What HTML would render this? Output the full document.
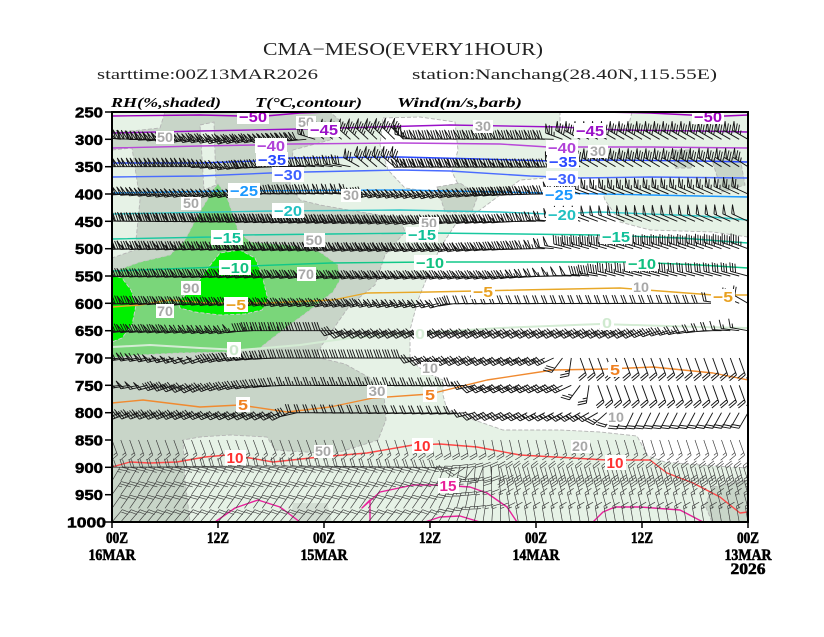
<!DOCTYPE html>
<html><head><meta charset="utf-8">
<style>html,body{margin:0;padding:0;background:#fff;width:824px;height:637px;overflow:hidden}svg{display:block}</style>
</head>
<body>
<svg id="s" width="824" height="637" viewBox="0 0 824 637" xmlns="http://www.w3.org/2000/svg">
<defs><clipPath id="pc"><rect x="112" y="112" width="636" height="410"/></clipPath></defs>
<rect x="0" y="0" width="824" height="637" fill="#fff"/>
<g clip-path="url(#pc)">
  <!-- RH shading -->
  <rect x="112" y="112" width="636" height="410" fill="#e6f2e6"/>
  <g fill="#ffffff" stroke="#b4b4b4" stroke-width="0.9" stroke-dasharray="4,2">
    <polygon points="440,248 455,225 480,210 500,195 520,180 560,177 598,178 605,200 620,222 650,230 713,232 748,237 748,468 700,465 665,462 648,456 637,436 600,432 560,430 503,430 460,415 447,410 443,395 443,380 425,372 410,360 410,330 418,300 430,270"/>
    <polygon points="383,118 420,117 455,122 458,150 452,172 460,188 440,193 405,188 388,170 380,145"/>
    <polygon points="560,112 632,112 628,128 600,134 560,132"/>
  </g>
  <g fill="#c8d5c8" stroke="#b4b4b4" stroke-width="0.9" stroke-dasharray="4,2">
    <polygon points="112,112 330,112 345,125 330,140 293,150 290,185 300,200 320,205 360,212 400,218 405,232 385,255 375,285 350,305 343,315 322,345 316,357 345,364 370,378 384,395 386,420 378,440 340,452 320,453 275,450 267,437 230,435 200,437 183,440 185,480 190,522 112,522"/>
    <polygon points="437,187 460,183 478,195 472,212 445,212"/>
    <polygon points="673,150 690,150 692,168 675,168"/>
    <polygon points="712,160 740,157 745,185 722,192"/>
    <polygon points="713,487 748,480 748,522 712,522 705,505"/>
  </g>
  <polygon points="293,503 327,503 332,522 290,522" fill="#d3ded3"/>
  <g fill="#e6f2e6" stroke="#b4b4b4" stroke-width="0.9" stroke-dasharray="4,2">
    <polygon points="112,150 132,148 140,200 135,250 112,258"/>
    <polygon points="200,125 214,122 216,185 204,190"/>
    <polygon points="112,112 165,112 160,128 112,133"/>
  </g>
  <polygon points="218,183 228,200 238,230 250,242 290,245 320,252 338,265 340,280 333,292 310,310 287,327 270,340 260,348 230,352 180,353 140,355 112,358 112,272 140,262 170,255 185,240 198,215 210,195" fill="#7ad67a" stroke="#c8c8c8" stroke-width="0.9" stroke-dasharray="4,2"/>
  <g fill="#00f000" stroke="#d0d0d0" stroke-width="0.9" stroke-dasharray="4,2">
    <polygon points="112,275 122,278 131,290 136,305 132,325 122,338 112,342"/>
    <polygon points="178,302 195,286 208,268 220,253 240,250 255,258 262,275 268,300 262,310 245,314 220,315 195,312 180,308"/>
  </g>

  <!-- Temperature contours -->
  <g fill="none" stroke-width="1.4" stroke-linejoin="round">
    <polyline stroke="#a000c0" points="112,116 200,115 240,116 266,116 300,113 330,112"/>
    <polyline stroke="#a000c0" points="600,112 650,113 690,115 725,116 748,115"/>
    <polyline stroke="#9a10c8" points="112,133 200,131 300,129 340,128 450,125 560,127 620,130 700,131 748,132"/>
    <polyline stroke="#b848d8" points="112,148 200,146 255,145 290,144 400,143 500,144 548,147 580,147 650,147 748,148"/>
    <polyline stroke="#2848ff" points="112,163 200,163 258,161 290,158 400,157 480,159 550,161 600,160 700,161 748,162"/>
    <polyline stroke="#4a6cff" points="112,177 200,176 270,173 305,172 400,170 450,171 530,176 580,178 650,177 748,178"/>
    <polyline stroke="#1a98ff" points="112,193 230,191 400,190 550,193 650,195 748,197"/>
    <polyline stroke="#30c8c8" points="112,214 273,211 400,210 500,212 548,214 600,212 700,216 748,220"/>
    <polyline stroke="#18c8a0" points="112,239 212,237 243,235 330,234 430,233 520,234 600,235 680,238 748,243"/>
    <polyline stroke="#10c888" points="112,271 220,267 330,263 430,262 630,262 700,265 748,268"/>
    <polyline stroke="#e8a828" points="112,307 140,305 170,300 207,303 267,303 333,300 367,293 430,292 520,290 620,288 713,295 748,295"/>
    <polyline stroke="#d4ecd4" stroke-width="2" points="112,347 150,345 200,348 240,350 300,345 350,338 420,333 500,328 600,324 700,327 748,328"/>
    <polyline stroke="#f08a30" points="112,403 143,400 200,407 240,405 287,412 330,407 373,398 430,394 487,380 553,370 607,369 653,367 713,373 748,380"/>
    <polyline stroke="#ff4848" points="112,467 130,462 150,463 177,462 205,457 227,455 250,458 273,462 320,457 367,453 413,445 440,444 477,447 520,455 607,460 650,460 667,473 693,483 720,497 740,513 748,512"/>
    <polyline stroke="#e8209a" points="215,522 235,508 258,500 280,507 300,522"/>
    <polyline stroke="#e8209a" points="370,522 370,500 362,508 380,492 413,485 440,485 470,487 487,493 507,507 517,522"/>
    <polyline stroke="#e8209a" points="425,522 440,517 460,516 480,522"/>
    <polyline stroke="#e8209a" points="593,522 603,512 615,507 640,507 680,510 703,522"/>
  </g>

  <!-- Wind barbs (generated) -->
  <path id="barbsU" fill="none" stroke="#151515" stroke-width="0.95" stroke-linejoin="round" d=""/>
  <path id="barbsL" fill="none" stroke="#3a3a3a" stroke-width="0.65" stroke-linejoin="round" d=""/>

  <!-- RH labels -->
  <g font-family="Liberation Sans, sans-serif" font-weight="bold" font-size="14" fill="#a8a8a8" text-anchor="middle">
    <rect x="156" y="131" width="18" height="13" fill="#fff"/><text x="165" y="142" textLength="16" lengthAdjust="spacingAndGlyphs">50</text>
    <rect x="296" y="116" width="20" height="13" fill="#fff"/><text x="306" y="127" textLength="16" lengthAdjust="spacingAndGlyphs">50</text>
    <rect x="473" y="120" width="20" height="13" fill="#fff"/><text x="483" y="131" textLength="16" lengthAdjust="spacingAndGlyphs">30</text>
    <rect x="588" y="145" width="20" height="13" fill="#fff"/><text x="598" y="156" textLength="16" lengthAdjust="spacingAndGlyphs">30</text>
    <rect x="341" y="189" width="20" height="13" fill="#fff"/><text x="351" y="200" textLength="16" lengthAdjust="spacingAndGlyphs">30</text>
    <rect x="181" y="197" width="20" height="13" fill="#fff"/><text x="191" y="208" textLength="16" lengthAdjust="spacingAndGlyphs">50</text>
    <rect x="419" y="217" width="20" height="13" fill="#fff"/><text x="429" y="228" textLength="16" lengthAdjust="spacingAndGlyphs">50</text>
    <rect x="304" y="233" width="21" height="14" fill="#fff"/><text x="314" y="245" textLength="17" lengthAdjust="spacingAndGlyphs">50</text>
    <rect x="297" y="267" width="19" height="14" fill="#fff"/><text x="306" y="279" textLength="16" lengthAdjust="spacingAndGlyphs">70</text>
    <rect x="181" y="281" width="20" height="14" fill="#fff"/><text x="191" y="293" textLength="17" lengthAdjust="spacingAndGlyphs">90</text>
    <rect x="156" y="304" width="18" height="14" fill="#fff"/><text x="165" y="316" textLength="16" lengthAdjust="spacingAndGlyphs">70</text>
    <rect x="632" y="281" width="19" height="13" fill="#fff"/><text x="641" y="292" textLength="16" lengthAdjust="spacingAndGlyphs">10</text>
    <rect x="421" y="362" width="18" height="13" fill="#fff"/><text x="430" y="373" textLength="16" lengthAdjust="spacingAndGlyphs">10</text>
    <rect x="367" y="385" width="20" height="13" fill="#fff"/><text x="377" y="396" textLength="17" lengthAdjust="spacingAndGlyphs">30</text>
    <rect x="607" y="411" width="18" height="13" fill="#fff"/><text x="616" y="422" textLength="16" lengthAdjust="spacingAndGlyphs">10</text>
    <rect x="571" y="440" width="19" height="13" fill="#fff"/><text x="580" y="451" textLength="16" lengthAdjust="spacingAndGlyphs">20</text>
    <rect x="314" y="445" width="19" height="13" fill="#fff"/><text x="323" y="456" textLength="16" lengthAdjust="spacingAndGlyphs">50</text>
  </g>

  <!-- T labels -->
  <g font-family="Liberation Sans, sans-serif" font-weight="bold" font-size="15" text-anchor="middle">
    <rect x="237" y="110" width="32" height="14" fill="#fff"/><text x="253" y="122" fill="#a000c0" textLength="28" lengthAdjust="spacingAndGlyphs">−50</text>
    <rect x="692" y="110" width="32" height="14" fill="#fff"/><text x="708" y="122" fill="#a000c0" textLength="28" lengthAdjust="spacingAndGlyphs">−50</text>
    <rect x="308" y="122" width="32" height="15" fill="#fff"/><text x="324" y="135" fill="#9a10c8" textLength="28" lengthAdjust="spacingAndGlyphs">−45</text>
    <rect x="574" y="123" width="32" height="15" fill="#fff"/><text x="590" y="136" fill="#9a10c8" textLength="28" lengthAdjust="spacingAndGlyphs">−45</text>
    <rect x="255" y="138" width="32" height="15" fill="#fff"/><text x="271" y="151" fill="#b040d8" textLength="28" lengthAdjust="spacingAndGlyphs">−40</text>
    <rect x="546" y="140" width="32" height="15" fill="#fff"/><text x="562" y="153" fill="#b040d8" textLength="28" lengthAdjust="spacingAndGlyphs">−40</text>
    <rect x="256" y="152" width="32" height="14" fill="#fff"/><text x="272" y="165" fill="#2848ff" textLength="28" lengthAdjust="spacingAndGlyphs">−35</text>
    <rect x="547" y="154" width="32" height="14" fill="#fff"/><text x="563" y="167" fill="#2848ff" textLength="28" lengthAdjust="spacingAndGlyphs">−35</text>
    <rect x="272" y="167" width="32" height="15" fill="#fff"/><text x="288" y="180" fill="#3e60ff" textLength="28" lengthAdjust="spacingAndGlyphs">−30</text>
    <rect x="546" y="171" width="32" height="15" fill="#fff"/><text x="562" y="184" fill="#3e60ff" textLength="28" lengthAdjust="spacingAndGlyphs">−30</text>
    <rect x="228" y="183" width="32" height="15" fill="#fff"/><text x="244" y="196" fill="#1a98ff" textLength="28" lengthAdjust="spacingAndGlyphs">−25</text>
    <rect x="543" y="187" width="32" height="15" fill="#fff"/><text x="559" y="200" fill="#1a98ff" textLength="28" lengthAdjust="spacingAndGlyphs">−25</text>
    <rect x="272" y="203" width="32" height="15" fill="#fff"/><text x="288" y="216" fill="#20c0c0" textLength="28" lengthAdjust="spacingAndGlyphs">−20</text>
    <rect x="546" y="207" width="32" height="15" fill="#fff"/><text x="562" y="220" fill="#20c0c0" textLength="28" lengthAdjust="spacingAndGlyphs">−20</text>
    <rect x="211" y="230" width="32" height="15" fill="#fff"/><text x="227" y="243" fill="#10c098" textLength="28" lengthAdjust="spacingAndGlyphs">−15</text>
    <rect x="406" y="227" width="32" height="15" fill="#fff"/><text x="422" y="240" fill="#10c098" textLength="28" lengthAdjust="spacingAndGlyphs">−15</text>
    <rect x="600" y="229" width="32" height="15" fill="#fff"/><text x="616" y="242" fill="#10c098" textLength="28" lengthAdjust="spacingAndGlyphs">−15</text>
    <rect x="219" y="260" width="32" height="15" fill="#fff"/><text x="235" y="273" fill="#10c080" textLength="28" lengthAdjust="spacingAndGlyphs">−10</text>
    <rect x="414" y="255" width="32" height="15" fill="#fff"/><text x="430" y="268" fill="#10c080" textLength="28" lengthAdjust="spacingAndGlyphs">−10</text>
    <rect x="626" y="256" width="32" height="15" fill="#fff"/><text x="642" y="269" fill="#10c080" textLength="28" lengthAdjust="spacingAndGlyphs">−10</text>
    <rect x="224" y="297" width="24" height="15" fill="#fff"/><text x="236" y="310" fill="#e8a020" textLength="20" lengthAdjust="spacingAndGlyphs">−5</text>
    <rect x="471" y="284" width="24" height="15" fill="#fff"/><text x="483" y="297" fill="#e8a020" textLength="20" lengthAdjust="spacingAndGlyphs">−5</text>
    <rect x="711" y="289" width="24" height="15" fill="#fff"/><text x="723" y="302" fill="#e8a020" textLength="20" lengthAdjust="spacingAndGlyphs">−5</text>
    <rect x="227" y="342" width="14" height="15" fill="#fff"/><text x="234" y="355" fill="#cce8cc" textLength="10" lengthAdjust="spacingAndGlyphs">0</text>
    <rect x="414" y="327" width="13" height="14" fill="#fff"/><text x="420" y="339" fill="#d8eed8" textLength="10" lengthAdjust="spacingAndGlyphs">0</text>
    <rect x="600" y="315" width="14" height="15" fill="#fff"/><text x="607" y="328" fill="#d0ead0" textLength="10" lengthAdjust="spacingAndGlyphs">0</text>
    <rect x="236" y="397" width="14" height="15" fill="#fff"/><text x="243" y="410" fill="#f08020" textLength="10" lengthAdjust="spacingAndGlyphs">5</text>
    <rect x="423" y="387" width="14" height="15" fill="#fff"/><text x="430" y="400" fill="#f08020" textLength="10" lengthAdjust="spacingAndGlyphs">5</text>
    <rect x="608" y="362" width="14" height="15" fill="#fff"/><text x="615" y="375" fill="#f08020" textLength="10" lengthAdjust="spacingAndGlyphs">5</text>
    <rect x="225" y="450" width="21" height="15" fill="#fff"/><text x="235" y="463" fill="#ff3030" textLength="17" lengthAdjust="spacingAndGlyphs">10</text>
    <rect x="412" y="438" width="21" height="15" fill="#fff"/><text x="422" y="451" fill="#ff3030" textLength="17" lengthAdjust="spacingAndGlyphs">10</text>
    <rect x="605" y="455" width="21" height="15" fill="#fff"/><text x="615" y="468" fill="#ff3030" textLength="17" lengthAdjust="spacingAndGlyphs">10</text>
    <rect x="438" y="478" width="21" height="15" fill="#fff"/><text x="448" y="491" fill="#e8209a" textLength="17" lengthAdjust="spacingAndGlyphs">15</text>
  </g>
</g>

<!-- Frame -->
<rect x="112" y="112" width="636" height="410" fill="none" stroke="#000" stroke-width="2"/>

<!-- Y ticks and labels -->
<g stroke="#000" stroke-width="1.5">
  <line x1="105" y1="112" x2="112" y2="112"/><line x1="105" y1="139.3" x2="112" y2="139.3"/>
  <line x1="105" y1="166.7" x2="112" y2="166.7"/><line x1="105" y1="194" x2="112" y2="194"/>
  <line x1="105" y1="221.3" x2="112" y2="221.3"/><line x1="105" y1="248.7" x2="112" y2="248.7"/>
  <line x1="105" y1="276" x2="112" y2="276"/><line x1="105" y1="303.3" x2="112" y2="303.3"/>
  <line x1="105" y1="330.7" x2="112" y2="330.7"/><line x1="105" y1="358" x2="112" y2="358"/>
  <line x1="105" y1="385.3" x2="112" y2="385.3"/><line x1="105" y1="412.7" x2="112" y2="412.7"/>
  <line x1="105" y1="440" x2="112" y2="440"/><line x1="105" y1="467.3" x2="112" y2="467.3"/>
  <line x1="105" y1="494.7" x2="112" y2="494.7"/><line x1="105" y1="522" x2="112" y2="522"/>
  <line x1="112" y1="522" x2="112" y2="528"/><line x1="218" y1="522" x2="218" y2="528"/>
  <line x1="324" y1="522" x2="324" y2="528"/><line x1="430" y1="522" x2="430" y2="528"/>
  <line x1="536" y1="522" x2="536" y2="528"/><line x1="642" y1="522" x2="642" y2="528"/>
  <line x1="748" y1="522" x2="748" y2="528"/>
</g>
<g font-family="Liberation Sans, sans-serif" font-weight="bold" font-size="15" fill="#000" stroke="#000" stroke-width="0.5" text-anchor="end">
  <text x="103" y="117.5" textLength="28" lengthAdjust="spacingAndGlyphs">250</text>
  <text x="103" y="144.8" textLength="28" lengthAdjust="spacingAndGlyphs">300</text>
  <text x="103" y="172.2" textLength="28" lengthAdjust="spacingAndGlyphs">350</text>
  <text x="103" y="199.5" textLength="28" lengthAdjust="spacingAndGlyphs">400</text>
  <text x="103" y="226.8" textLength="28" lengthAdjust="spacingAndGlyphs">450</text>
  <text x="103" y="254.2" textLength="28" lengthAdjust="spacingAndGlyphs">500</text>
  <text x="103" y="281.5" textLength="28" lengthAdjust="spacingAndGlyphs">550</text>
  <text x="103" y="308.8" textLength="28" lengthAdjust="spacingAndGlyphs">600</text>
  <text x="103" y="336.2" textLength="28" lengthAdjust="spacingAndGlyphs">650</text>
  <text x="103" y="363.5" textLength="28" lengthAdjust="spacingAndGlyphs">700</text>
  <text x="103" y="390.8" textLength="28" lengthAdjust="spacingAndGlyphs">750</text>
  <text x="103" y="418.2" textLength="28" lengthAdjust="spacingAndGlyphs">800</text>
  <text x="103" y="445.5" textLength="28" lengthAdjust="spacingAndGlyphs">850</text>
  <text x="103" y="472.8" textLength="28" lengthAdjust="spacingAndGlyphs">900</text>
  <text x="103" y="500.2" textLength="28" lengthAdjust="spacingAndGlyphs">950</text>
  <text x="106" y="527.5" textLength="39" lengthAdjust="spacingAndGlyphs">1000</text>
</g>

<!-- X labels -->
<g font-family="Liberation Serif, serif" font-weight="bold" font-size="16" fill="#000" stroke="#000" stroke-width="0.6" text-anchor="middle">
  <text x="117" y="543" textLength="22" lengthAdjust="spacingAndGlyphs">00Z</text>
  <text x="112" y="560" textLength="47" lengthAdjust="spacingAndGlyphs">16MAR</text>
  <text x="218" y="543" textLength="22" lengthAdjust="spacingAndGlyphs">12Z</text>
  <text x="324" y="543" textLength="22" lengthAdjust="spacingAndGlyphs">00Z</text>
  <text x="324" y="560" textLength="47" lengthAdjust="spacingAndGlyphs">15MAR</text>
  <text x="430" y="543" textLength="22" lengthAdjust="spacingAndGlyphs">12Z</text>
  <text x="536" y="543" textLength="22" lengthAdjust="spacingAndGlyphs">00Z</text>
  <text x="536" y="560" textLength="47" lengthAdjust="spacingAndGlyphs">14MAR</text>
  <text x="642" y="543" textLength="22" lengthAdjust="spacingAndGlyphs">12Z</text>
  <text x="748" y="543" textLength="22" lengthAdjust="spacingAndGlyphs">00Z</text>
  <text x="748" y="560" textLength="47" lengthAdjust="spacingAndGlyphs">13MAR</text>
  <text x="748" y="574" textLength="35" lengthAdjust="spacingAndGlyphs">2026</text>
</g>

<!-- Titles -->
<g font-family="Liberation Serif, serif" fill="#222">
  <text x="263" y="55" font-size="18" textLength="280" lengthAdjust="spacingAndGlyphs">CMA−MESO(EVERY1HOUR)</text>
  <text x="97" y="79" font-size="15" textLength="221" lengthAdjust="spacingAndGlyphs">starttime:00Z13MAR2026</text>
  <text x="412" y="79" font-size="15" textLength="305" lengthAdjust="spacingAndGlyphs">station:Nanchang(28.40N,115.55E)</text>
</g>
<g font-family="Liberation Serif, serif" font-weight="bold" font-style="italic" font-size="14" fill="#000">
  <text x="111" y="107" textLength="110" lengthAdjust="spacingAndGlyphs">RH(%,shaded)</text>
  <text x="255" y="107" textLength="107" lengthAdjust="spacingAndGlyphs">T(°C,contour)</text>
  <text x="397" y="107" textLength="125" lengthAdjust="spacingAndGlyphs">Wind(m/s,barb)</text>
</g>
</svg>
<script>
(function(){
  var X0=112,X1=748,Y0=112,Y1=522;
  function py(p){return Y0+(p-250)*(Y1-Y0)/750;}
  function hx(h){return X0+h*(X1-X0)/72;}
  function interp(k,h){
    for(var i=0;i<k.length-1;i++){
      if(h<=k[i+1][0]){var t=(h-k[i][0])/(k[i+1][0]-k[i][0]);
        return [k[i][1]+t*(k[i+1][1]-k[i][1]),k[i][2]+t*(k[i+1][2]-k[i][2])];}
    }
    var l=k[k.length-1];return [l[1],l[2]];
  }
  function f(n){return n.toFixed(1);}
  function barb(x,y,phi,spd,L,FL){
    spd=Math.round(spd/2)*2; if(spd<2) return '';
    var r=phi*Math.PI/180, ux=Math.cos(r), uy=-Math.sin(r);
    var th=70*Math.PI/180;
    var fx=ux*Math.cos(th)-uy*Math.sin(th), fy=ux*Math.sin(th)+uy*Math.cos(th);
    var sp=2.6;
    var d='M'+f(x)+','+f(y)+'L'+f(x+ux*L)+','+f(y+uy*L);
    var pos=L;
    var n20=Math.floor(spd/20), rem=spd-n20*20, n4=Math.floor(rem/4), n2=(rem%4)>=2?1:0;
    for(var i=0;i<n20;i++){
      var px=x+ux*pos, pyy=y+uy*pos, qx=x+ux*(pos-3), qy=y+uy*(pos-3);
      d+='M'+f(px)+','+f(pyy)+'L'+f(px+fx*FL)+','+f(pyy+fy*FL)+'L'+f(qx)+','+f(qy);
      pos-=3.8;
    }
    for(var j=0;j<n4;j++){
      var ax=x+ux*pos, ay=y+uy*pos;
      d+='M'+f(ax)+','+f(ay)+'L'+f(ax+fx*FL)+','+f(ay+fy*FL);
      pos-=sp;
    }
    if(n2){
      if(pos===L) pos-=sp;
      var bx=x+ux*pos, by=y+uy*pos;
      d+='M'+f(bx)+','+f(by)+'L'+f(bx+fx*FL*0.5)+','+f(by+fy*FL*0.5);
    }
    return d;
  }
  var rows=[
   [300,[[0,172,44],[6,185,46],[14,195,48],[22,185,44],[24,140,36],[33,135,32],[34.5,178,30],[50,178,28],[51.5,150,30],[72,150,30]]],
   [350,[[0,180,40],[10,180,42],[14,190,40],[17,185,30],[27,170,28],[28.5,140,30],[33,140,30],[34,182,36],[50,182,34],[51.5,150,32],[72,148,30]]],
   [400,[[0,180,40],[7,190,40],[16,192,42],[18,178,28],[28,175,26],[29.5,192,40],[37,195,40],[45,185,38],[50,180,30],[52,160,26],[72,155,26]]],
   [450,[[0,178,36],[20,185,38],[35,190,38],[45,185,34],[50,175,24],[52,160,20],[72,155,20]]],
   [500,[[0,182,34],[25,188,34],[40,190,32],[49,180,26],[52,165,18],[72,160,18]]],
   [550,[[0,182,30],[30,190,30],[45,190,28],[54,175,18],[57,165,14],[72,165,12]]],
   [600,[[0,182,30],[20,190,30],[38,195,24],[40,182,8],[68,180,8],[72,150,8]]],
   [650,[[0,185,28],[14,190,26],[17,180,14],[25,180,12],[26.5,205,18],[60,205,16],[66,190,8],[72,170,6]]],
   [700,[[0,185,26],[10,200,20],[20,180,12],[34,180,12],[35.5,205,16],[50,205,14],[53,290,8],[72,290,8]]],
   [750,[[0,185,22],[10,205,16],[21,180,10],[40,182,10],[42,205,14],[52,205,12],[55,290,8],[72,290,8]]],
   [800,[[0,200,16],[20,205,14],[22,180,8],[40,185,8],[42,205,12],[55,210,10],[58,245,8],[72,240,8]]]
  ];
  var rowsL=[
   [850,[[0,290,6],[30,290,6],[40,280,8],[50,285,6],[72,290,6]]],
   [900,[[0,180,8],[20,172,8],[38,180,8],[44,285,8],[72,285,8]]],
   [925,[[0,60,10],[35,60,10],[42,90,8],[46,108,8],[72,108,8]]],
   [950,[[0,55,10],[35,55,10],[46,105,8],[72,105,8]]],
   [975,[[0,55,8],[35,55,8],[46,105,6],[72,105,6]]],
   [1000,[[0,50,8],[35,50,8],[46,100,6],[72,100,6]]]
  ];
  function build(rs,L,FL){
    var d='';
    for(var r=0;r<rs.length;r++){
      var y=py(rs[r][0]);
      for(var h=0;h<=72;h++){
        var v=interp(rs[r][1],h);
        d+=barb(hx(h),y,v[0],v[1],L,FL);
      }
    }
    return d;
  }
  document.getElementById('barbsU').setAttribute('d',build(rows,18,9));
  document.getElementById('barbsL').setAttribute('d',build(rowsL,16,8));
})();
</script>
</body></html>
